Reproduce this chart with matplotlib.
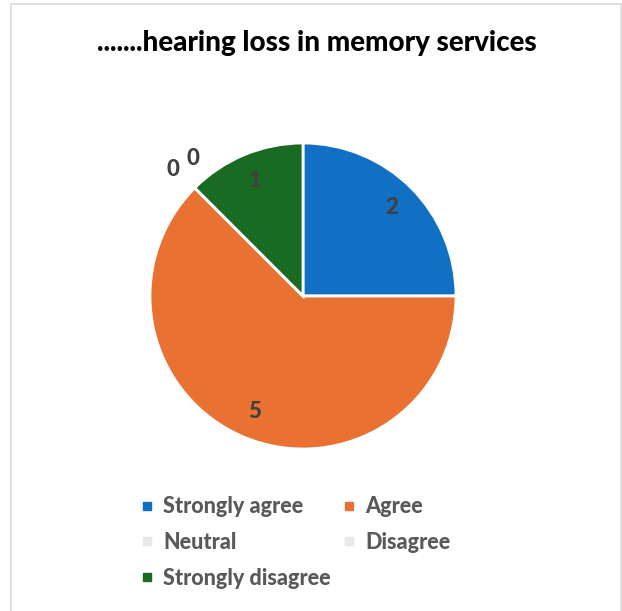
import matplotlib
matplotlib.use("Agg")
import matplotlib.pyplot as plt
import numpy as np
from matplotlib.patches import Rectangle
from matplotlib.lines import Line2D

categories = ["Strongly agree", "Agree", "Neutral", "Disagree", "Strongly disagree"]
values = [2, 5, 0, 0, 1]
colors = ["#0F70C4", "#E97132", "#E8E8E8", "#E8E8E8", "#196B24"]
title = ".......hearing loss in memory services"

FONT = ["Lato", "DejaVu Sans"]
plt.rcParams["font.family"] = FONT

W, H = 622, 611
fig = plt.figure(figsize=(W / 100, H / 100), dpi=100)

# chart area border
fig.patches.append(Rectangle((10.5 / W, -0.05), (620.5 - 10.5) / W, 1.05 - 3.5 / H,
                             transform=fig.transFigure, fill=False,
                             edgecolor="#D9D9D9", linewidth=1.2))

fig.text(317 / W, 1 - 43 / H, title, ha="center", va="center",
         fontsize=20, fontweight="black", color="#000000")

cx, cy, r = 303, 296, 153
ax = fig.add_axes([(cx - r) / W, (H - cy - r) / H, 2 * r / W, 2 * r / H])
wedges, _ = ax.pie(values, colors=colors, startangle=90, counterclock=False,
                   wedgeprops=dict(edgecolor="white", linewidth=2))
ax.set_xlim(-1, 1)
ax.set_ylim(-1, 1)
ax.set_aspect("equal")
ax.axis("off")

# data labels: inside for non-zero slices, just outside the edge for zero slices
zero_nudge = [(-0.05, 0.03), (0.08, 0.10)]
zi = 0
for w, v in zip(wedges, values):
    ang = np.deg2rad((w.theta1 + w.theta2) / 2)
    if v > 0:
        d = 0.82
        x, y = d * np.cos(ang), d * np.sin(ang)
    else:
        d = 1.13
        x, y = d * np.cos(ang), d * np.sin(ang)
        dx, dy = zero_nudge[zi]
        x += dx
        y += dy
        zi += 1
    ax.text(x, y, f"{v}", ha="center", va="center", fontsize=16,
            fontweight="black", color="#404040")

# legend filled row by row (two columns)
order = [0, 2, 4, 1, 3]
handles = [Line2D([], [], marker="s", linestyle="none", markersize=6,
                  markerfacecolor=colors[i], markeredgecolor=colors[i]) for i in order]
labels = [categories[i] for i in order]
leg = fig.legend(handles, labels, ncol=2, loc="upper left",
                 bbox_to_anchor=(121 / W, 1 - 477 / H), frameon=False,
                 handlelength=0.6, handletextpad=0.45, columnspacing=0.55,
                 labelspacing=0.68,
                 prop=dict(family=FONT, weight="black", size=15.5))
for t in leg.get_texts():
    t.set_color("#595959")

fig.savefig("out.png", dpi=100)
